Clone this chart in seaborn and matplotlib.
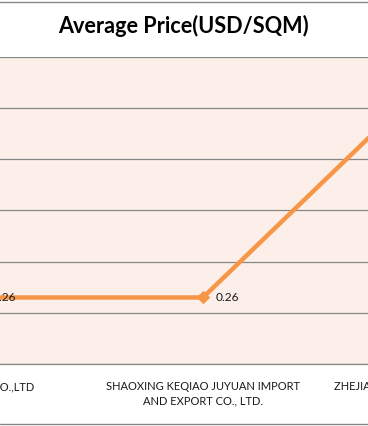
import matplotlib
matplotlib.use("Agg")
import matplotlib.pyplot as plt
from matplotlib.lines import Line2D
import numpy as np
import pandas as pd
import seaborn as sns

# Chart data (the outer categories are cropped)
companies = [
    "HANGZHOU CO.,LTD",
    "SHAOXING KEQIAO JUYUAN IMPORT\nAND EXPORT CO., LTD.",
    "ZHEJIANG HANGXIN TEXTILE TECH\nCO., LTD.",
]
avg_price = [0.26, 0.26, 0.47]
title = "Average Price(USD/SQM)"

df = pd.DataFrame({"pos": np.arange(len(companies)), "price": avg_price})

sns.set_theme(style="white")
plt.rcParams["font.family"] = ["Lato", "DejaVu Sans"]

fig = plt.figure(figsize=(3.68, 4.26), dpi=100)
fig.patch.set_facecolor("white")

# plot area is wider than the visible crop
ax = fig.add_axes([-131.5 / 368, 62 / 426, 669 / 368, 307 / 426])
ax.set_facecolor("#FCEEE9")

sns.lineplot(data=df, x="pos", y="price", ax=ax, color="#F79646",
             linewidth=3.2, marker="D", markersize=6,
             markeredgecolor="#F79646", markerfacecolor="#F79646")

for xi, v in zip(df["pos"], df["price"]):
    ax.annotate(f"{v:.2f}", (xi, v), xytext=(13, 0), textcoords="offset pixels",
                ha="left", va="center", fontsize=8.6, color="#1a1a1a")

ax.set_xlim(-0.5, len(companies) - 0.5)
ax.set_ylim(0.195, 0.495)
ax.set_yticks(np.arange(0.195, 0.5, 0.05))
ax.yaxis.grid(True, color="#878787", linewidth=0.9)
ax.set_axisbelow(True)
ax.set_yticklabels([])
ax.tick_params(axis="y", length=0)
ax.set_xticks(df["pos"])
ax.set_xticklabels(companies, fontsize=8, color="#1a1a1a", linespacing=1.3)
ax.tick_params(axis="x", length=0, pad=12.5)
ax.set_xlabel("")
ax.set_ylabel("")
for s in ["top", "left", "right"]:
    ax.spines[s].set_visible(False)
ax.spines["bottom"].set_color("#878787")
ax.spines["bottom"].set_linewidth(0.9)

fig.text(183 / 368, 1 - 33 / 426, title, ha="center", va="baseline",
         fontsize=15.6, fontweight="bold", color="black")

# chart area border (only top and bottom edges are in view)
for yp in [1.5, 423.5]:
    fig.add_artist(Line2D([0, 1], [1 - yp / 426] * 2, color="#878787",
                          linewidth=1.0, transform=fig.transFigure))

fig.savefig("out.png", dpi=100, facecolor="white")
